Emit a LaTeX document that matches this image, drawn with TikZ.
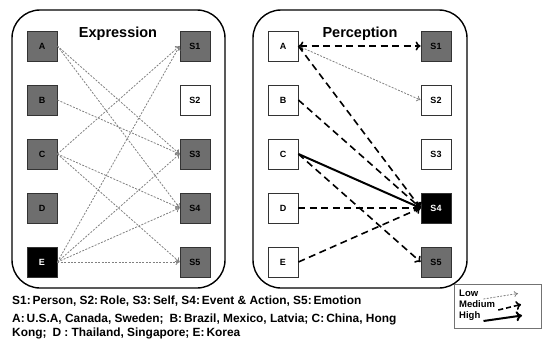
\documentclass[tikz,border=0pt]{standalone}
\usepackage{fontspec}
\setmainfont{Liberation Sans}
\usetikzlibrary{arrows.meta}
\tikzset{
  panel/.style={draw, line width=1.4pt, rounded corners=28pt},
  cell/.style={draw=black!80, line width=0.8pt, minimum size=30pt, inner sep=0pt, font=\fontsize{9}{9}\selectfont\bfseries},
  grey/.style={cell, fill=black!57},
  blank/.style={cell, fill=white},
  dark/.style={cell, fill=black, text=white},
  low/.style={draw=black!50, dash pattern=on 2pt off 1.4pt, line width=0.8pt, -{To[length=4pt,width=6pt]}},
  medium/.style={dash pattern=on 7pt off 4.5pt, line width=1.6pt, -{To[length=5pt,width=9pt]}},
  high/.style={line width=2pt, -{To[length=6pt,width=10pt]}},
  title/.style={font=\fontsize{14.5}{15}\selectfont\bfseries},
  caption/.style={anchor=base west, inner sep=0pt, font=\fontsize{11.9}{12}\selectfont\bfseries},
  key/.style={anchor=base west, inner sep=0pt, font=\fontsize{9.5}{9.5}\selectfont\bfseries}
}
\begin{document}
\begin{tikzpicture}[x=1pt,y=-1pt]
\useasboundingbox (0,0) rectangle (542,343);
% panels
\draw[panel] (12,10) rectangle (225,288);
\draw[panel] (253,10) rectangle (467,288);
\node[title] (exptitle) at (118,34) {Expression};
\node[title] (pertitle) at (360,34) {Perception};
% expression boxes
\node[grey] (eA) at (42,46) {A};
\node[grey] (eB) at (42,100) {B};
\node[grey] (eC) at (42,154) {C};
\node[grey] (eD) at (42,208) {D};
\node[dark] (eE) at (42,262) {E};
\node[grey] (eS1) at (195,46) {S1};
\node[blank] (eS2) at (195,100) {S2};
\node[grey] (eS3) at (195,154) {S3};
\node[grey] (eS4) at (195,208) {S4};
\node[grey] (eS5) at (195,262) {S5};
% perception boxes
\foreach \n/\y in {A/46,B/100,C/154,D/208,E/262}
  \node[blank] (p\n) at (283,\y) {\n};
\node[grey] (pS1) at (436,46) {S1};
\node[blank] (pS2) at (436,100) {S2};
\node[blank] (pS3) at (436,154) {S3};
\node[dark] (pS4) at (436,208) {S4};
\node[grey] (pS5) at (436,262) {S5};
% expression links
\foreach \s/\t in {A/S3,A/S4,B/S3,C/S1,C/S4,C/S5,E/S1,E/S3,E/S4,E/S5}
  \draw[low] (e\s.east) -- (e\t.west);
% perception links
\draw[medium,{To[length=5pt,width=9pt]}-{To[length=5pt,width=9pt]}] (pA.east) -- (pS1.west);
\draw[low] (pA.east) -- (pS2.west);
\foreach \s in {A,B,D,E}
  \draw[medium] (p\s.east) -- (pS4.west);
\draw[medium] (pC.east) -- (pS5.west);
\draw[high] (pC.east) -- (pS4.west);
% captions
\node[caption] (cap1) at (12,304) {S1:\,Person, S2:\,Role, S3:\,Self, S4:\,Event \& Action, S5:\,Emotion};
\node[caption] (cap2) at (12,322) {A:\,U.S.A, Canada, Sweden;\enspace B:\,Brazil, Mexico, Latvia; C:\,China, Hong};
\node[caption] (cap3) at (12,336) {Kong;\enspace D : Thailand, Singapore; E:\,Korea};
% legend
\draw[draw=black!55, line width=0.8pt] (454,284) rectangle (541.5,328);
\node[key] (lowlab) at (459,296) {Low};
\node[key] (medlab) at (459,307) {Medium};
\node[key] (higlab) at (459,318) {High};
\coordinate (lowend) at (518,293.5);
\coordinate (medend) at (521,304.5);
\coordinate (higend) at (522,315.5);
\draw[low] ([xshift=5pt,yshift=-3pt]lowlab.base east) -- (lowend);
\draw[medium, dash pattern=on 5pt off 3pt] ([xshift=3pt,yshift=-3pt]medlab.base east) -- (medend);
\draw[high] ([xshift=3pt,yshift=-3pt]higlab.base east) -- (higend);
\end{tikzpicture}
\end{document}
